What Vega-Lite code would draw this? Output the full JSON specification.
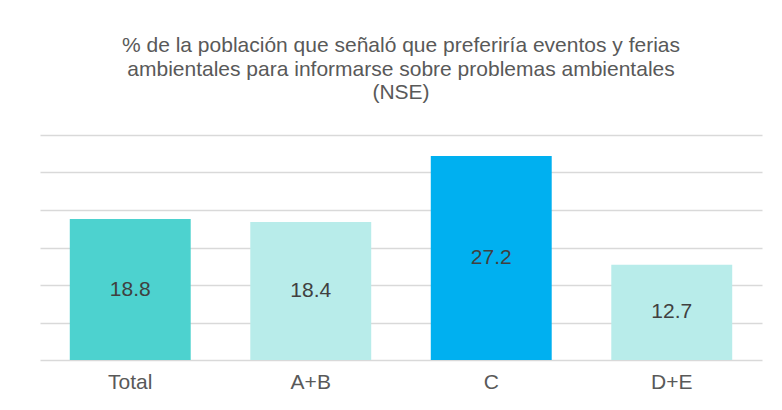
{
  "$schema": "https://vega.github.io/schema/vega-lite/v6.json",
  "width": 722,
  "height": 225,
  "autosize": {"type": "none"},
  "padding": {"left": 40, "top": 135, "right": 20, "bottom": 50},
  "background": "white",
  "title": {
    "text": ["% de la población que señaló que preferiría eventos y ferias", "ambientales para informarse sobre  problemas ambientales", "(NSE)"],
    "font": "Liberation Sans",
    "fontSize": 21,
    "fontWeight": "normal",
    "color": "#595959",
    "anchor": "middle",
    "lineHeight": 23.5,
    "offset": 32
  },
  "data": {
    "values": [
      {"nse": "Total", "value": 18.8, "grupo": "total"},
      {"nse": "A+B", "value": 18.4, "grupo": "claro"},
      {"nse": "C", "value": 27.2, "grupo": "c"},
      {"nse": "D+E", "value": 12.7, "grupo": "claro"}
    ]
  },
  "encoding": {
    "x": {
      "field": "nse",
      "type": "nominal",
      "sort": null,
      "scale": {"paddingInner": 0.33, "paddingOuter": 0.165},
      "axis": {
        "title": null,
        "labelAngle": 0,
        "labelFont": "Liberation Sans",
        "labelFontSize": 21,
        "labelColor": "#595959",
        "labelPadding": 11,
        "ticks": false,
        "domain": false
      }
    }
  },
  "layer": [
    {
      "mark": {"type": "bar"},
      "encoding": {
        "y": {
          "field": "value",
          "type": "quantitative",
          "scale": {"domain": [0, 30]},
          "axis": {
            "title": null,
            "labels": false,
            "ticks": false,
            "domain": false,
            "values": [0, 5, 10, 15, 20, 25, 30],
            "grid": true,
            "gridColor": "#D9D9D9",
            "gridWidth": 1.5
          }
        },
        "color": {
          "field": "grupo",
          "type": "nominal",
          "scale": {"domain": ["total", "claro", "c"], "range": ["#4DD2CF", "#B8ECEA", "#00B0F0"]},
          "legend": null
        }
      }
    },
    {
      "mark": {"type": "text", "font": "Liberation Sans", "fontSize": 21, "color": "#404040", "baseline": "middle"},
      "encoding": {
        "y": {"field": "value", "type": "quantitative", "scale": {"domain": [0, 60]}, "axis": null},
        "text": {"field": "value", "type": "quantitative", "format": ".1f"}
      }
    }
  ],
  "resolve": {"scale": {"y": "independent"}, "axis": {"y": "independent"}},
  "config": {"view": {"stroke": null}}
}
